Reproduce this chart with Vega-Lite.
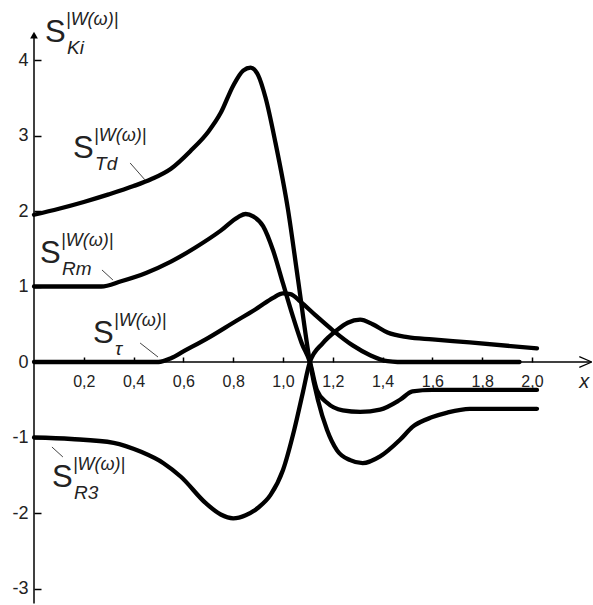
{
  "$schema": "https://vega.github.io/schema/vega-lite/v6.json",
  "width": 559,
  "height": 605,
  "autosize": "none",
  "padding": {"left": 34, "top": 0, "right": 0, "bottom": 0},
  "background": "white",
  "config": {"view": {"stroke": null}, "font": "Liberation Sans"},
  "datasets": {
    "curves": [
      {"curve": "Td", "x": 0, "y": 1.95}, {"curve": "Td", "x": 0.1, "y": 2.03}, {"curve": "Td", "x": 0.2, "y": 2.12}, {"curve": "Td", "x": 0.3, "y": 2.22}, {"curve": "Td", "x": 0.4, "y": 2.33}, {"curve": "Td", "x": 0.47, "y": 2.42}, {"curve": "Td", "x": 0.55, "y": 2.56}, {"curve": "Td", "x": 0.63, "y": 2.8}, {"curve": "Td", "x": 0.7, "y": 3.05}, {"curve": "Td", "x": 0.75, "y": 3.3}, {"curve": "Td", "x": 0.8, "y": 3.66}, {"curve": "Td", "x": 0.84, "y": 3.86}, {"curve": "Td", "x": 0.87, "y": 3.9}, {"curve": "Td", "x": 0.9, "y": 3.8}, {"curve": "Td", "x": 0.93, "y": 3.5}, {"curve": "Td", "x": 0.97, "y": 2.9}, {"curve": "Td", "x": 1.02, "y": 2.02}, {"curve": "Td", "x": 1.06, "y": 1.1}, {"curve": "Td", "x": 1.108, "y": 0}, {"curve": "Td", "x": 1.14, "y": -0.5}, {"curve": "Td", "x": 1.177, "y": -0.9}, {"curve": "Td", "x": 1.217, "y": -1.17}, {"curve": "Td", "x": 1.27, "y": -1.3}, {"curve": "Td", "x": 1.32, "y": -1.34}, {"curve": "Td", "x": 1.39, "y": -1.25}, {"curve": "Td", "x": 1.47, "y": -1.03}, {"curve": "Td", "x": 1.52, "y": -0.86}, {"curve": "Td", "x": 1.6, "y": -0.73}, {"curve": "Td", "x": 1.66, "y": -0.67}, {"curve": "Td", "x": 1.75, "y": -0.62}, {"curve": "Td", "x": 2.02, "y": -0.62},
      {"curve": "Rm", "x": 0, "y": 1.0}, {"curve": "Rm", "x": 0.27, "y": 1.0}, {"curve": "Rm", "x": 0.35, "y": 1.07}, {"curve": "Rm", "x": 0.45, "y": 1.18}, {"curve": "Rm", "x": 0.55, "y": 1.33}, {"curve": "Rm", "x": 0.65, "y": 1.52}, {"curve": "Rm", "x": 0.75, "y": 1.74}, {"curve": "Rm", "x": 0.82, "y": 1.92}, {"curve": "Rm", "x": 0.85, "y": 1.96}, {"curve": "Rm", "x": 0.88, "y": 1.93}, {"curve": "Rm", "x": 0.92, "y": 1.8}, {"curve": "Rm", "x": 0.96, "y": 1.48}, {"curve": "Rm", "x": 1.0, "y": 1.04}, {"curve": "Rm", "x": 1.04, "y": 0.6}, {"curve": "Rm", "x": 1.075, "y": 0.25}, {"curve": "Rm", "x": 1.108, "y": 0}, {"curve": "Rm", "x": 1.136, "y": -0.37}, {"curve": "Rm", "x": 1.177, "y": -0.54}, {"curve": "Rm", "x": 1.24, "y": -0.64}, {"curve": "Rm", "x": 1.31, "y": -0.66}, {"curve": "Rm", "x": 1.39, "y": -0.63}, {"curve": "Rm", "x": 1.47, "y": -0.5}, {"curve": "Rm", "x": 1.52, "y": -0.39}, {"curve": "Rm", "x": 1.6, "y": -0.37}, {"curve": "Rm", "x": 2.02, "y": -0.37},
      {"curve": "tau", "x": 0, "y": 0}, {"curve": "tau", "x": 0.5, "y": 0}, {"curve": "tau", "x": 0.55, "y": 0.05}, {"curve": "tau", "x": 0.6, "y": 0.14}, {"curve": "tau", "x": 0.7, "y": 0.32}, {"curve": "tau", "x": 0.8, "y": 0.52}, {"curve": "tau", "x": 0.9, "y": 0.72}, {"curve": "tau", "x": 0.96, "y": 0.85}, {"curve": "tau", "x": 1.0, "y": 0.91}, {"curve": "tau", "x": 1.03, "y": 0.9}, {"curve": "tau", "x": 1.07, "y": 0.8}, {"curve": "tau", "x": 1.13, "y": 0.62}, {"curve": "tau", "x": 1.2, "y": 0.42}, {"curve": "tau", "x": 1.28, "y": 0.22}, {"curve": "tau", "x": 1.35, "y": 0.09}, {"curve": "tau", "x": 1.42, "y": 0.01}, {"curve": "tau", "x": 1.46, "y": 0}, {"curve": "tau", "x": 1.95, "y": 0},
      {"curve": "R3", "x": 0, "y": -1.0}, {"curve": "R3", "x": 0.15, "y": -1.02}, {"curve": "R3", "x": 0.32, "y": -1.07}, {"curve": "R3", "x": 0.43, "y": -1.19}, {"curve": "R3", "x": 0.52, "y": -1.34}, {"curve": "R3", "x": 0.59, "y": -1.52}, {"curve": "R3", "x": 0.69, "y": -1.87}, {"curve": "R3", "x": 0.75, "y": -2.02}, {"curve": "R3", "x": 0.8, "y": -2.07}, {"curve": "R3", "x": 0.85, "y": -2.03}, {"curve": "R3", "x": 0.9, "y": -1.93}, {"curve": "R3", "x": 0.95, "y": -1.76}, {"curve": "R3", "x": 1.0, "y": -1.43}, {"curve": "R3", "x": 1.045, "y": -0.9}, {"curve": "R3", "x": 1.08, "y": -0.4}, {"curve": "R3", "x": 1.108, "y": 0}, {"curve": "R3", "x": 1.16, "y": 0.25}, {"curve": "R3", "x": 1.216, "y": 0.42}, {"curve": "R3", "x": 1.26, "y": 0.52}, {"curve": "R3", "x": 1.31, "y": 0.56}, {"curve": "R3", "x": 1.36, "y": 0.5}, {"curve": "R3", "x": 1.42, "y": 0.39}, {"curve": "R3", "x": 1.5, "y": 0.33}, {"curve": "R3", "x": 1.6, "y": 0.3}, {"curve": "R3", "x": 1.75, "y": 0.26}, {"curve": "R3", "x": 2.02, "y": 0.18}
    ],
    "labels": [
      {"name": "K", "x": 0.044, "y": 4.238, "sub": "Ki"},
      {"name": "Td", "x": 0.157, "y": 2.702, "sub": "Td"},
      {"name": "Rm", "x": 0.024, "y": 1.311, "sub": "Rm"},
      {"name": "tau", "x": 0.237, "y": 0.252, "sub": "τ"},
      {"name": "R3", "x": 0.072, "y": -1.656, "sub": "R3"}
    ],
    "leaders": [
      {"name": "Td", "x": 0.386, "y": 2.636, "x2": 0.446, "y2": 2.411},
      {"name": "Rm", "x": 0.273, "y": 1.219, "x2": 0.317, "y2": 1.086},
      {"name": "tau", "x": 0.426, "y": 0.252, "x2": 0.498, "y2": 0.066},
      {"name": "R3", "x": 0.072, "y": -1.126, "x2": 0.116, "y2": -1.258}
    ],
    "arrowBarbs": [
      {"x": 2.19, "y": 0.07, "x2": 2.24, "y2": 0},
      {"x": 2.19, "y": -0.07, "x2": 2.24, "y2": 0}
    ]
  },
  "layer": [
    {
      "data": {"name": "curves"},
      "mark": {"type": "line", "interpolate": "monotone", "strokeWidth": 4.3, "color": "black", "strokeCap": "round", "strokeJoin": "round"},
      "encoding": {
        "x": {"field": "x", "type": "quantitative",
          "scale": {"domain": [0, 2.245], "nice": false, "zero": false},
          "axis": {"orient": "bottom", "offset": -243, "domain": false, "grid": false, "title": null,
            "values": [0.2, 0.4, 0.6, 0.8, 1.0, 1.2, 1.4, 1.6, 1.8, 2.0],
            "labelExpr": "replace(format(datum.value, '.1f'), '.', ',')",
            "tickSize": -5, "tickColor": "black", "tickWidth": 1.5,
            "labelPadding": 16, "labelFontSize": 16, "labelColor": "#222", "labelFont": "Liberation Sans"}},
        "y": {"field": "y", "type": "quantitative",
          "scale": {"domain": [-3.2185, 4.7947], "nice": false, "zero": false},
          "axis": {"orient": "left", "domain": false, "grid": false, "title": null,
            "values": [-3, -2, -1, 0, 1, 2, 3, 4],
            "labelExpr": "'' + datum.value",
            "tickSize": -7, "tickColor": "black", "tickWidth": 1.5,
            "labelPadding": 13, "labelFontSize": 18, "labelColor": "#222", "labelFont": "Liberation Sans"}},
        "detail": {"field": "curve"}
      }
    },
    {
      "data": {"values": [{}]},
      "mark": {"type": "rule", "color": "black", "strokeWidth": 1.5},
      "encoding": {"x": {"datum": 0}, "x2": {"datum": 2.238}, "y": {"datum": 0}}
    },
    {
      "data": {"values": [{}]},
      "mark": {"type": "rule", "color": "black", "strokeWidth": 1.5},
      "encoding": {"x": {"datum": 0}, "y": {"datum": -3.2}, "y2": {"datum": 4.3}}
    },
    {
      "data": {"name": "arrowBarbs"},
      "mark": {"type": "rule", "color": "black", "strokeWidth": 1.3},
      "encoding": {"x": {"field": "x", "type": "quantitative"}, "y": {"field": "y", "type": "quantitative"}, "x2": {"field": "x2"}, "y2": {"field": "y2"}}
    },
    {
      "data": {"values": [{}]},
      "mark": {"type": "point", "shape": "triangle-up", "filled": true, "color": "black", "size": 60, "opacity": 1},
      "encoding": {"x": {"datum": 0}, "y": {"datum": 4.33}}
    },
    {
      "data": {"name": "leaders"},
      "mark": {"type": "rule", "color": "#444", "strokeWidth": 1},
      "encoding": {"x": {"field": "x", "type": "quantitative"}, "y": {"field": "y", "type": "quantitative"}, "x2": {"field": "x2"}, "y2": {"field": "y2"}}
    },
    {
      "data": {"name": "labels"},
      "mark": {"type": "text", "text": "S", "fontSize": 31, "align": "left", "baseline": "alphabetic", "color": "#222", "font": "Liberation Sans"},
      "encoding": {"x": {"field": "x", "type": "quantitative"}, "y": {"field": "y", "type": "quantitative"}}
    },
    {
      "data": {"name": "labels"},
      "mark": {"type": "text", "text": "|W(ω)|", "fontSize": 18, "fontStyle": "italic", "align": "left", "baseline": "alphabetic", "dx": 21, "dy": -17, "color": "#222", "font": "Liberation Sans"},
      "encoding": {"x": {"field": "x", "type": "quantitative"}, "y": {"field": "y", "type": "quantitative"}}
    },
    {
      "data": {"name": "labels"},
      "mark": {"type": "text", "fontSize": 19, "fontStyle": "italic", "align": "left", "baseline": "alphabetic", "dx": 22, "dy": 12, "color": "#222", "font": "Liberation Sans"},
      "encoding": {"x": {"field": "x", "type": "quantitative"}, "y": {"field": "y", "type": "quantitative"}, "text": {"field": "sub"}}
    },
    {
      "data": {"values": [{"t": "x"}]},
      "mark": {"type": "text", "fontSize": 20, "fontStyle": "italic", "align": "left", "baseline": "alphabetic", "color": "#222", "font": "Liberation Sans"},
      "encoding": {"x": {"datum": 2.19}, "y": {"datum": -0.34}, "text": {"field": "t"}}
    }
  ]
}
